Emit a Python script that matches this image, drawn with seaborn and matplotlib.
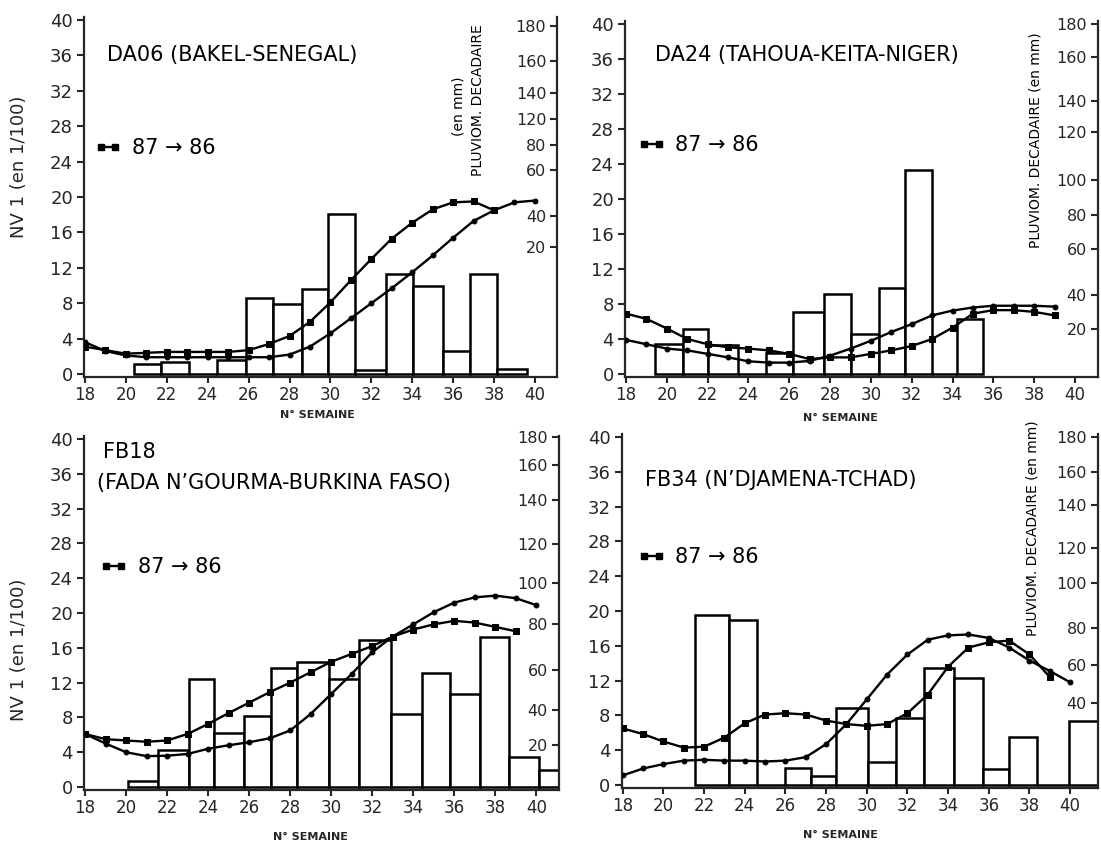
import matplotlib
matplotlib.use("Agg")
import numpy as np
import pandas as pd
import seaborn as sns
import matplotlib.pyplot as plt
from matplotlib.lines import Line2D

# ---------------- data ----------------
# DA06 (BAKEL-SENEGAL)
da06_rain_edges = [20.4, 21.7, 23.1, 24.47, 25.85, 27.2, 28.6, 29.9, 31.2, 32.7, 34.06, 35.5, 36.83, 38.13, 39.6]
da06_rain = [1.1, 1.4, 0.0, 1.6, 8.6, 7.9, 9.6, 18.1, 0.5, 11.35, 10.0, 2.6, 11.35, 0.6]
da06_weeks_sq = list(range(18, 39))
da06_nv_sq = [3.1, 2.7, 2.3, 2.4, 2.5, 2.5, 2.5, 2.5, 2.7, 3.4, 4.3, 5.9, 8.1, 10.6, 13.0, 15.3, 17.1, 18.6, 19.4, 19.5, 18.5]
da06_weeks_dot = list(range(18, 41))
da06_nv_dot = [3.6, 2.6, 2.1, 1.9, 1.9, 1.9, 1.9, 1.9, 1.9, 1.9, 2.2, 3.1, 4.6, 6.3, 8.0, 9.7, 11.5, 13.4, 15.4, 17.3, 18.5, 19.4, 19.6]
da06_rt_pos = [39.3, 35.4, 31.8, 28.8, 25.9, 23.0, 17.9, 14.3]
da06_rt_lab = ["180", "160", "140", "120", "80", "60", "40", "20"]

# DA24 (TAHOUA-KEITA-NIGER)
da24_rain_edges = [19.42, 20.77, 22.03, 23.5, 24.85, 26.2, 27.7, 29.0, 30.4, 31.65, 32.97, 34.22, 35.5]
da24_rain = [3.4, 5.2, 3.3, 0.0, 2.4, 7.1, 9.2, 4.6, 9.85, 23.3, 0.0, 6.3]
da24_weeks_sq = list(range(18, 40))
da24_nv_sq = [6.9, 6.3, 5.2, 4.0, 3.4, 3.05, 2.9, 2.7, 2.3, 1.7, 1.9, 1.9, 2.3, 2.7, 3.2, 4.0, 5.3, 6.9, 7.3, 7.3, 7.1, 6.7]
da24_weeks_dot = list(range(18, 40))
da24_nv_dot = [3.9, 3.4, 2.9, 2.7, 2.3, 1.9, 1.45, 1.3, 1.3, 1.5, 2.1, 2.9, 3.8, 4.8, 5.7, 6.7, 7.25, 7.6, 7.8, 7.8, 7.8, 7.7]
da24_rt_pos = [40.0, 36.25, 31.25, 27.7, 22.2, 18.2, 14.3, 9.0, 5.2]
da24_rt_lab = ["180", "160", "140", "120", "100", "80", "60", "40", "20"]

# FB18 (FADA N'GOURMA-BURKINA FASO)
fb18_rain_edges = [20.08, 21.54, 23.08, 24.29, 25.75, 27.05, 28.35, 29.89, 31.35, 32.89, 34.43, 35.81, 37.27, 38.65, 40.11, 41.4]
fb18_rain = [0.7, 4.3, 12.4, 6.2, 8.2, 13.7, 14.4, 12.4, 16.9, 8.4, 13.1, 10.7, 17.3, 3.5, 1.9]
fb18_weeks_sq = list(range(18, 40))
fb18_nv_sq = [6.1, 5.5, 5.35, 5.2, 5.35, 6.1, 7.25, 8.5, 9.7, 10.9, 12.0, 13.2, 14.4, 15.3, 16.2, 17.3, 18.1, 18.7, 19.1, 18.9, 18.4, 17.9]
fb18_weeks_dot = list(range(18, 41))
fb18_nv_dot = [6.1, 5.0, 4.0, 3.55, 3.6, 3.8, 4.4, 4.8, 5.15, 5.6, 6.5, 8.4, 10.7, 13.0, 15.5, 17.3, 18.7, 20.1, 21.2, 21.8, 22.0, 21.7, 20.9]
fb18_rt_pos = [40.2, 37.0, 33.0, 27.9, 23.5, 18.7, 13.5, 8.9, 4.8]
fb18_rt_lab = ["180", "160", "140", "120", "100", "80", "60", "40", "20"]

# FB34 (N'DJAMENA-TCHAD)
fb34_rain_edges = [21.55, 23.2, 24.6, 25.97, 27.28, 28.5, 30.05, 31.43, 32.8, 34.3, 35.72, 37.0, 38.38, 39.95, 41.37]
fb34_rain = [19.5, 19.0, 0.0, 1.9, 1.0, 8.8, 2.7, 7.75, 13.4, 12.3, 1.8, 5.5, 0.0, 7.4]
fb34_weeks_sq = list(range(18, 40))
fb34_nv_sq = [6.5, 5.85, 5.0, 4.3, 4.4, 5.45, 7.1, 8.1, 8.25, 8.1, 7.4, 7.0, 6.8, 7.0, 8.25, 10.4, 13.6, 15.8, 16.4, 16.6, 15.0, 12.4]
fb34_weeks_dot = list(range(18, 41))
fb34_nv_dot = [1.1, 1.9, 2.4, 2.8, 2.9, 2.8, 2.8, 2.7, 2.8, 3.2, 4.7, 7.0, 9.85, 12.7, 15.0, 16.7, 17.2, 17.3, 16.9, 15.8, 14.3, 13.1, 11.8]
fb34_rt_pos = [40.0, 36.0, 32.2, 27.2, 23.2, 18.0, 13.8, 9.4]
fb34_rt_lab = ["180", "160", "140", "120", "100", "80", "60", "40"]

x_ticks = list(range(18, 41, 2))
y_ticks = list(range(0, 41, 4))
legend_label = "87 \u2192 86"

# ---------------- style ----------------
sns.set_theme(style="ticks")
plt.rcParams["font.family"] = ["DejaVu Sans"]
plt.rcParams["axes.linewidth"] = 1.6
plt.rcParams["text.color"] = "black"

fig = plt.figure(figsize=(11.01, 8.42), dpi=100)

panels = [
    dict(rect=[0.0763, 0.5526, 0.430, 0.4268], xmax=41.1,
         edges=da06_rain_edges, rain=da06_rain,
         wsq=da06_weeks_sq, vsq=da06_nv_sq, wdot=da06_weeks_dot, vdot=da06_nv_dot,
         rtp=da06_rt_pos, rtl=da06_rt_lab,
         titles=[("DA06 (BAKEL-SENEGAL)", 0.049, 0.895)],
         leg=(0.022, 0.636), xl=(0.494, -0.093), yl=(-0.118, 0.583),
         rlab=[("PLUVIOM. DECADAIRE", 0.832, 0.77), ("(en mm)", 0.79, 0.753)]),
    dict(rect=[0.5677, 0.5527, 0.4296, 0.4219], xmax=41.13,
         edges=da24_rain_edges, rain=da24_rain,
         wsq=da24_weeks_sq, vsq=da24_nv_sq, wdot=da24_weeks_dot, vdot=da24_nv_dot,
         rtp=da24_rt_pos, rtl=da24_rt_lab,
         titles=[("DA24 (TAHOUA-KEITA-NIGER)", 0.063, 0.905)],
         leg=(0.027, 0.652), xl=(0.455, -0.102), yl=None,
         rlab=[("PLUVIOM. DECADAIRE (en mm)", 0.867, 0.666)]),
    dict(rect=[0.0763, 0.0622, 0.4314, 0.4195], xmax=41.1,
         edges=fb18_rain_edges, rain=fb18_rain,
         wsq=fb18_weeks_sq, vsq=fb18_nv_sq, wdot=fb18_weeks_dot, vdot=fb18_nv_dot,
         rtp=fb18_rt_pos, rtl=fb18_rt_lab,
         titles=[("FB18", 0.04, 0.955), ("(FADA N\u2019GOURMA-BURKINA FASO)", 0.027, 0.868)],
         leg=(0.034, 0.63), xl=(0.476, -0.12), yl=(-0.118, 0.395),
         rlab=[]),
    dict(rect=[0.5647, 0.0646, 0.4326, 0.4195], xmax=41.37,
         edges=fb34_rain_edges, rain=fb34_rain,
         wsq=fb34_weeks_sq, vsq=fb34_nv_sq, wdot=fb34_weeks_dot, vdot=fb34_nv_dot,
         rtp=fb34_rt_pos, rtl=fb34_rt_lab,
         titles=[("FB34 (N\u2019DJAMENA-TCHAD)", 0.049, 0.871)],
         leg=(0.034, 0.653), xl=(0.459, -0.12), yl=None,
         rlab=[("PLUVIOM. DECADAIRE (en mm)", 0.862, 0.735)]),
]

for p in panels:
    ax = fig.add_axes(p["rect"])
    edges = [float(e) for e in p["edges"]]
    mids = [(a + b) / 2 for a, b in zip(edges[:-1], edges[1:])]
    rain_df = pd.DataFrame({"week": mids, "rain": p["rain"]})
    sns.histplot(data=rain_df, x="week", weights="rain", bins=edges, ax=ax,
                 color="white", edgecolor="black", linewidth=1.8, alpha=1.0, zorder=1)
    sns.lineplot(x=p["wdot"], y=p["vdot"], ax=ax, color="black", linewidth=1.7,
                 marker="o", markersize=3.5, markeredgecolor="black", zorder=3)
    sns.lineplot(x=p["wsq"], y=p["vsq"], ax=ax, color="black", linewidth=1.7,
                 marker="s", markersize=5, markeredgecolor="black", zorder=4)

    ax.set_xlim(17.95, p["xmax"])
    ax.set_ylim(-0.3, 40.3)
    ax.set_xticks(x_ticks)
    ax.set_yticks(y_ticks)
    ax.tick_params(axis="x", direction="out", length=4, width=1.5, labelsize=12, pad=3)
    ax.tick_params(axis="y", direction="out", length=5, width=1.5, labelsize=13, pad=3)
    sns.despine(ax=ax, top=True, right=True)
    ax.grid(False)

    ax.set_xlabel("N\u00b0 SEMAINE", fontsize=8, fontweight="bold")
    ax.xaxis.set_label_coords(*p["xl"])
    if p["yl"] is not None:
        ax.set_ylabel("NV 1 (en 1/100)", fontsize=13)
        ax.yaxis.set_label_coords(*p["yl"])
    else:
        ax.set_ylabel("")

    for txt, tx, ty in p["titles"]:
        ax.text(tx, ty, txt, transform=ax.transAxes, fontsize=15, ha="left", va="center")

    handle = Line2D([], [], color="black", marker="s", markersize=5, linewidth=1.7)
    ax.legend(handles=[handle], labels=[legend_label], numpoints=2, frameon=False,
              loc="center left", bbox_to_anchor=p["leg"], fontsize=15,
              handlelength=1.3, handletextpad=0.5, borderpad=0, borderaxespad=0)

    # right rainfall axis
    ax2 = ax.twinx()
    ax2.set_ylim(ax.get_ylim())
    ax2.set_yticks(p["rtp"], labels=p["rtl"])
    ax2.tick_params(axis="y", direction="in", length=5, width=1.5, labelsize=11.5, pad=-8)
    for lbl in ax2.get_yticklabels():
        lbl.set_ha("right")
    for side in ("top", "left", "bottom"):
        ax2.spines[side].set_visible(False)
    ax2.spines["right"].set_linewidth(1.6)
    ax2.grid(False)
    for txt, tx, ty in p["rlab"]:
        ax.text(tx, ty, txt, transform=ax.transAxes, fontsize=10, rotation=90,
                ha="center", va="center")

fig.savefig("out.png", dpi=100)
